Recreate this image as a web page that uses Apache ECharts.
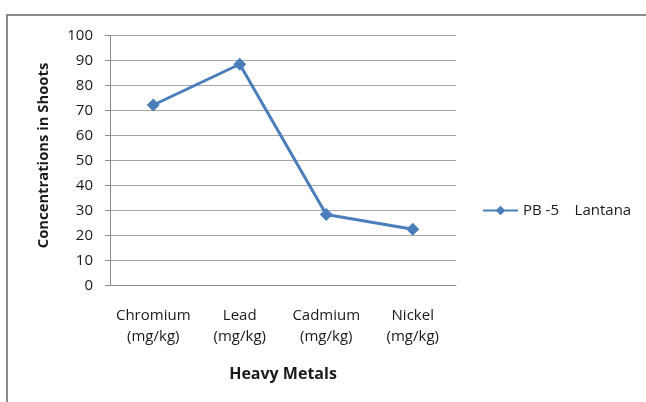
<!DOCTYPE html>
<html>
<head>
<meta charset="utf-8">
<script src="https://cdn.jsdelivr.net/npm/echarts@6/dist/echarts.min.js"></script>
<style>
  html, body { margin: 0; padding: 0; background: #fff; }
  #chart { width: 646px; height: 402px; }
</style>
</head>
<body>
<div id="chart"></div>
<script>
// Heavy metal concentrations in shoots (mg/kg)
const categories = ['Chromium\n(mg/kg)', 'Lead\n(mg/kg)', 'Cadmium\n(mg/kg)', 'Nickel\n(mg/kg)'];
const seriesName = 'PB -5    Lantana';
const lantanaValues = [72.2, 88.5, 28.4, 22.5];
const yTicks = { min: 0, max: 100, interval: 10 };

const FONT = '"Open Sans", Lato, sans-serif';
const chart = echarts.init(document.getElementById('chart'), null, { renderer: 'canvas' });

chart.setOption({
  animation: false,
  backgroundColor: '#fff',
  textStyle: { fontFamily: FONT },
  graphic: [{
    type: 'rect',
    shape: { x: 7, y: 15, width: 700, height: 450 },
    style: { fill: 'none', stroke: '#8c8c8c', lineWidth: 2 },
    silent: true
  }],
  grid: { left: 110, right: 190, top: 35.5, bottom: 116.5 },
  legend: {
    left: 482, top: 203, padding: 0,
    itemWidth: 35, itemHeight: 12, itemGap: 4,
    textStyle: { fontSize: 15, color: '#1a1a1a', fontFamily: FONT },
    data: [seriesName]
  },
  xAxis: {
    type: 'category',
    data: categories,
    boundaryGap: true,
    name: 'Heavy Metals',
    nameLocation: 'middle',
    nameGap: 81,
    nameTextStyle: { fontSize: 16, fontWeight: 'bold', color: '#1a1a1a', fontFamily: FONT },
    axisLine: { lineStyle: { color: '#8c8c8c', width: 1 } },
    axisTick: { show: false },
    axisLabel: { fontSize: 15, color: '#1a1a1a', lineHeight: 21, margin: 20, fontFamily: FONT, interval: 0 }
  },
  yAxis: {
    type: 'value',
    min: yTicks.min, max: yTicks.max, interval: yTicks.interval,
    name: 'Concentrations in Shoots',
    nameLocation: 'middle',
    nameGap: 59,
    nameTextStyle: { fontSize: 14.8, fontWeight: 'bold', color: '#1a1a1a', fontFamily: FONT, padding: [0, 0, 0, 10] },
    axisLine: { show: true, lineStyle: { color: '#8c8c8c', width: 1 } },
    axisTick: { show: true, length: 5, lineStyle: { color: '#8c8c8c' } },
    axisLabel: { fontSize: 15, color: '#1a1a1a', margin: 17, fontFamily: FONT },
    splitLine: { lineStyle: { color: '#a6a6a6', width: 1 } }
  },
  series: [{
    name: seriesName,
    type: 'line',
    data: lantanaValues,
    symbol: 'diamond',
    symbolSize: 13,
    lineStyle: { color: '#4a7ebb', width: 3 },
    itemStyle: { color: '#4a7ebb' }
  }]
});
</script>
</body>
</html>
